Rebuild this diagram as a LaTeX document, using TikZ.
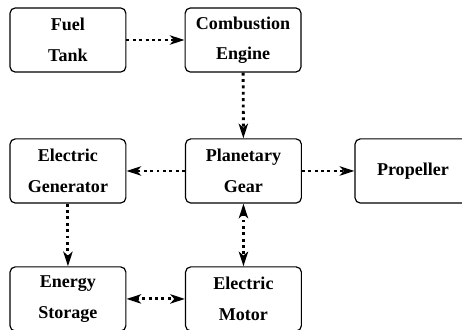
\documentclass[tikz,border=0pt]{standalone}
\usepackage{fontspec}
\setmainfont{Liberation Serif}
\usetikzlibrary{arrows.meta}

\tikzset{
    block/.style={draw, line width=0.9pt, rounded corners=4pt, minimum width=3.07cm,
        minimum height=1.70cm, align=center, font=\bfseries\fontsize{13.6}{23}\selectfont},
    flow/.style={line width=2.2pt, dash pattern=on 2.2pt off 2.6pt,
        >={Stealth[length=11pt, width=7pt, inset=3pt]}, ->},
    flowboth/.style={flow, <->}
}

\begin{document}
\begin{tikzpicture}
    % Fix the page size
    \useasboundingbox (0,0) rectangle (12.24,8.72);

    % Place the blocks
    \node[block] (tank) at (1.80,7.66) {Fuel\\Tank};
    \node[block] (engine) at (6.44,7.66) {Combustion\\Engine};
    \node[block] (generator) at (1.80,4.19) {Electric\\Generator};
    \node[block] (gear) at (6.45,4.19) {Planetary\\Gear};
    \node[block] (propeller) at (10.94,4.19) {Propeller};
    \node[block] (storage) at (1.80,0.80) {Energy\\Storage};
    \node[block] (motor) at (6.45,0.80) {Electric\\Motor};

    % Connect the blocks
    \draw[flow] (tank) -- (engine);
    \draw[flow] (engine) -- (gear);
    \draw[flow] (gear) -- (generator);
    \draw[flow] (gear) -- (propeller);
    \draw[flow] (generator) -- (storage);
    \draw[flowboth] (gear) -- (motor);
    \draw[flowboth] (storage) -- (motor);
\end{tikzpicture}
\end{document}
